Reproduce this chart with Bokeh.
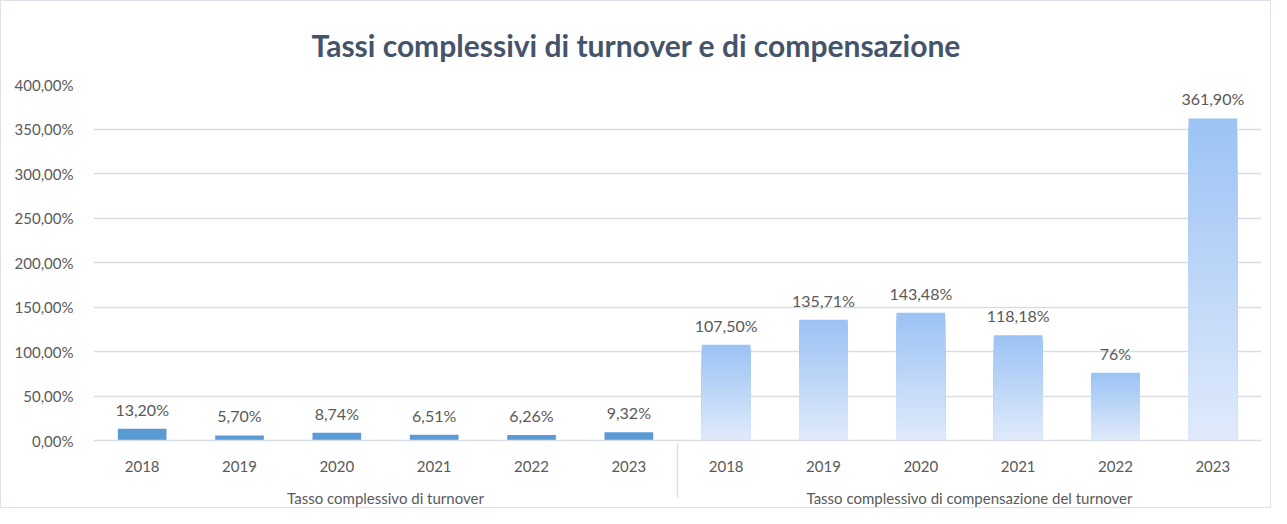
from bokeh.plotting import figure
from bokeh.models import FactorRange, ColumnDataSource, LabelSet, FixedTicker
from bokeh.core.properties import value
from bokeh.embed import file_html
from bokeh.resources import INLINE

# ---- data ----
title_text = "Tassi complessivi di turnover e di compensazione"
groups = ["Tasso complessivo di turnover", "Tasso complessivo di compensazione del turnover"]
years = ["2018", "2019", "2020", "2021", "2022", "2023"]
turnover = [13.20, 5.70, 8.74, 6.51, 6.26, 9.32]
turnover_labels = ["13,20%", "5,70%", "8,74%", "6,51%", "6,26%", "9,32%"]
compensazione = [107.50, 135.71, 143.48, 118.18, 76.0, 361.90]
compensazione_labels = ["107,50%", "135,71%", "143,48%", "118,18%", "76%", "361,90%"]
y_ticks = [0, 50, 100, 150, 200, 250, 300, 350, 400]
y_tick_labels = ["0,00%", "50,00%", "100,00%", "150,00%", "200,00%",
                 "250,00%", "300,00%", "350,00%", "400,00%"]

FONT = "Lato"
TXT = "#595959"
GRID = "#d9dee6"

factors = [(g, y) for g in groups for y in years]

p = figure(x_range=FactorRange(*factors, group_padding=0, range_padding=0),
           y_range=(0, 400), width=1271, height=508,
           output_backend="svg", toolbar_location=None,
           min_border_left=92, min_border_right=11, min_border_top=83, min_border_bottom=67)
p.x_range.factor_padding = 0

p.title.text = title_text
p.title.text_font = FONT
p.title.text_font_size = "30px"
p.title.text_color = "#44546A"
p.title.align = "left"
p.title.offset = 218
p.title.standoff = 44

# left series: solid bars
x_turn = [(groups[0], y) for y in years]
src1 = ColumnDataSource(dict(x=x_turn, top=turnover, lab=turnover_labels))
p.vbar(x="x", top="top", width=0.5, source=src1, fill_color="#5B9BD5", line_color=None)

# right series: vertical gradient built from stacked layers of each bar
def hex2rgb(h):
    h = h.lstrip("#")
    return tuple(int(h[i:i + 2], 16) for i in (0, 2, 4))

c_top = hex2rgb("#9cc3f4")
c_bot = hex2rgb("#dfeafb")
N = 40
gx, gtop, gcol = [], [], []
for k in range(N):
    t = k / (N - 1)
    col = "#%02x%02x%02x" % tuple(round(a + (b - a) * t) for a, b in zip(c_top, c_bot))
    for y, v in zip(years, compensazione):
        gx.append((groups[1], y))
        gtop.append(v * (N - k) / N)
        gcol.append(col)
src2 = ColumnDataSource(dict(x=gx, top=gtop, color=gcol))
p.vbar(x="x", top="top", width=0.5, source=src2, fill_color="color", line_color=None)

x_comp = [(groups[1], y) for y in years]
src3 = ColumnDataSource(dict(x=x_comp, top=compensazione, lab=compensazione_labels))

for s in (src1, src3):
    p.add_layout(LabelSet(x="x", y="top", text="lab", source=s, text_align="center",
                          text_baseline="bottom", y_offset=10, text_font=value(FONT),
                          text_font_size=value("16px"), text_color=TXT))

# axes
p.yaxis.ticker = FixedTicker(ticks=y_ticks)
p.yaxis.major_label_overrides = {t: l for t, l in zip(y_ticks, y_tick_labels)}
p.yaxis.axis_line_color = None
p.yaxis.major_tick_line_color = None
p.yaxis.minor_tick_line_color = None
p.yaxis.major_label_text_font = FONT
p.yaxis.major_label_text_font_size = "15px"
p.yaxis.major_label_text_color = TXT
p.yaxis.major_label_standoff = 14

p.xaxis.axis_line_color = GRID
p.xaxis.axis_line_width = 1.5
p.xaxis.major_tick_line_color = None
p.xaxis.minor_tick_line_color = None
p.xaxis.major_label_text_font = FONT
p.xaxis.major_label_text_font_size = "15px"
p.xaxis.major_label_text_color = TXT
p.xaxis.major_label_standoff = 14
p.xaxis.group_text_font = FONT
p.xaxis.group_text_font_size = "15px"
p.xaxis.group_text_font_style = "normal"
p.xaxis.group_text_color = TXT
p.xaxis.separator_line_color = GRID
p.xaxis.separator_line_width = 1.5

p.xgrid.grid_line_color = None
p.ygrid.grid_line_color = GRID
p.ygrid.grid_line_width = 1.5
p.outline_line_color = None

p.styles = {"border": "1px solid #dde2ea"}

open("out.html", "w").write(file_html(p, INLINE))
